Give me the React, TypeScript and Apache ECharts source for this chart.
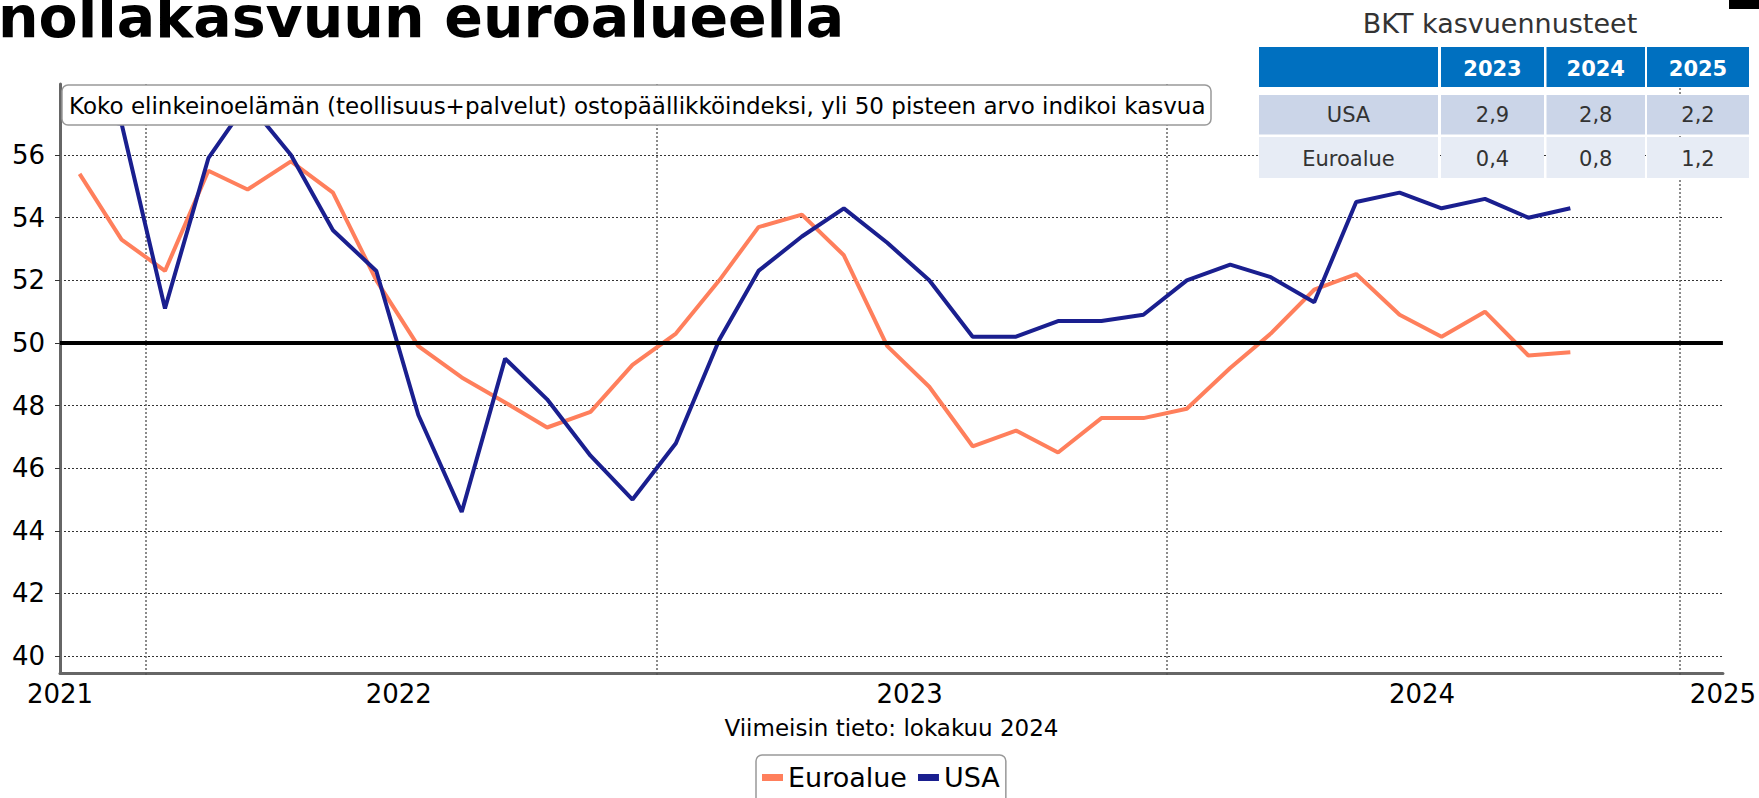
import React, { useEffect, useRef } from 'react';
import * as echarts from 'echarts';

// ---- Data ----
const months = [
  '2021-11-15', '2021-12-15',
  '2022-01-15', '2022-02-15', '2022-03-15', '2022-04-15', '2022-05-15', '2022-06-15',
  '2022-07-15', '2022-08-15', '2022-09-15', '2022-10-15', '2022-11-15', '2022-12-15',
  '2023-01-15', '2023-02-15', '2023-03-15', '2023-04-15', '2023-05-15', '2023-06-15',
  '2023-07-15', '2023-08-15', '2023-09-15', '2023-10-15', '2023-11-15', '2023-12-15',
  '2024-01-15', '2024-02-15', '2024-03-15', '2024-04-15', '2024-05-15', '2024-06-15',
  '2024-07-15', '2024-08-15', '2024-09-15', '2024-10-15',
];
const euroalue = [
  55.4, 53.3,
  52.3, 55.5, 54.9, 55.8, 54.8, 52.0, 49.9, 48.9, 48.1, 47.3, 47.8, 49.3,
  50.3, 52.0, 53.7, 54.1, 52.8, 49.9, 48.6, 46.7, 47.2, 46.5, 47.6, 47.6,
  47.9, 49.2, 50.3, 51.7, 52.2, 50.9, 50.2, 51.0, 49.6, 49.7,
];
const usa = [
  57.2, 57.0,
  51.1, 55.9, 57.7, 56.0, 53.6, 52.3, 47.7, 44.6, 49.5, 48.2, 46.4, 45.0,
  46.8, 50.1, 52.3, 53.4, 54.3, 53.2, 52.0, 50.2, 50.2, 50.7, 50.7, 50.9,
  52.0, 52.5, 52.1, 51.3, 54.5, 54.8, 54.3, 54.6, 54.0, 54.3,
];
const yTicks = [40, 42, 44, 46, 48, 50, 52, 54, 56];
const yearStarts = ['2022-01-01', '2023-01-01', '2024-01-01', '2025-01-01'];
const yearLabelAt = ['2021-11-01', '2022-07-01', '2023-07-01', '2024-07-01', '2025-02-01'];
const axisStart = '2021-11-01';
const axisEnd = '2025-02-01';

const tableTitle = 'BKT kasvuennusteet';
const tableYears = ['2023', '2024', '2025'];
const tableRowNames = ['USA', 'Euroalue'];
const gdpUSA = [2.9, 2.8, 2.2];
const gdpEuro = [0.4, 0.8, 1.2];

const headline = 'nollakasvuun euroalueella';
const note = 'Koko elinkeinoelämän (teollisuus+palvelut) ostopäällikköindeksi, yli 50 pisteen arvo indikoi kasvua';
const source = 'Viimeisin tieto: lokakuu 2024';

const FONT = "'DejaVu Sans', Verdana, sans-serif";

const ts = (s: string) => {
  const [y, m, d] = s.split('-').map(Number);
  return new Date(y, m - 1, d).getTime();
};
const fmt = (v: number) => v.toFixed(1).replace('.', ',');

function buildTable(): any[] {
  const cols = [
    [1259, 1438],
    [1441, 1544],
    [1546.5, 1645],
    [1647, 1749],
  ];
  const rows = [
    { y: 47, h: 40, fill: '#0070C0', ty: 68.5 },
    { y: 95, h: 39.5, fill: '#CBD5E8', ty: 114.5 },
    { y: 137, h: 41, fill: '#E7ECF5', ty: 159 },
  ];
  const els: any[] = [];
  els.push({
    type: 'text', z: 100, x: 1500, y: 23,
    style: { text: tableTitle, fill: '#333', fontSize: 27, fontFamily: FONT, align: 'center', verticalAlign: 'middle' },
  });
  const cellTexts = [
    ['', ...tableYears],
    [tableRowNames[0], ...gdpUSA.map(fmt)],
    [tableRowNames[1], ...gdpEuro.map(fmt)],
  ];
  rows.forEach((r, ri) => {
    cols.forEach((c, ci) => {
      els.push({
        type: 'rect', z: 100,
        shape: { x: c[0], y: r.y, width: c[1] - c[0], height: r.h },
        style: { fill: r.fill },
      });
      const t = cellTexts[ri][ci];
      if (t) {
        els.push({
          type: 'text', z: 101, x: (c[0] + c[1]) / 2, y: r.ty,
          style: {
            text: t,
            fill: ri === 0 ? '#ffffff' : '#333333',
            fontSize: 21,
            fontWeight: ri === 0 ? 'bold' : 'normal',
            fontFamily: FONT,
            align: 'center',
            verticalAlign: 'middle',
          },
        });
      }
    });
  });
  return els;
}

export default function App() {
  const ref = useRef<HTMLDivElement>(null);
  useEffect(() => {
    if (!ref.current) return;
    const chart = echarts.init(ref.current, undefined, { renderer: 'svg' });
    const option: any = {
      animation: false,
      backgroundColor: '#ffffff',
      textStyle: { fontFamily: FONT },
      grid: { left: 60, right: 36, top: 84, bottom: 125, containLabel: false },
      legend: {
        left: 756,
        top: 755,
        orient: 'horizontal',
        icon: 'rect',
        itemWidth: 21,
        itemHeight: 7,
        itemGap: 11,
        padding: [9, 6, 14, 6],
        borderColor: '#999999',
        borderWidth: 1.5,
        borderRadius: 6,
        textStyle: { fontSize: 27, fontFamily: FONT, color: '#000' },
        data: ['Euroalue', 'USA'],
      },
      xAxis: {
        type: 'value',
        min: ts(axisStart),
        max: ts(axisEnd),
        axisLine: { show: true, lineStyle: { color: '#666', width: 3 } },
        axisTick: {
          show: true,
          length: 4,
          customValues: yearStarts.map(ts),
          lineStyle: { color: '#555', width: 1.5, type: [2, 2] },
        },
        axisLabel: {
          customValues: yearLabelAt.map(ts),
          formatter: (v: number) => String(new Date(v).getFullYear()),
          fontSize: 26,
          fontFamily: FONT,
          color: '#000',
          margin: 8,
        },
        splitLine: { show: true, lineStyle: { color: '#666', width: 1.5, type: [2, 2] } },
      },
      yAxis: {
        type: 'value',
        min: 39.46,
        max: 58.27,
        axisLine: { show: true, lineStyle: { color: '#666', width: 3 } },
        axisTick: { show: true, length: 5, customValues: yTicks, lineStyle: { color: '#333', width: 1 } },
        axisLabel: { customValues: yTicks, fontSize: 26, fontFamily: FONT, color: '#000', margin: 15 },
        splitLine: { show: true, lineStyle: { color: '#333', width: 1, type: [2, 2] } },
      },
      series: [
        {
          name: 'Euroalue',
          type: 'line',
          data: months.map((m, i) => [ts(m), euroalue[i]]),
          showSymbol: false,
          symbol: 'none',
          color: '#FF7F5C',
          lineStyle: { width: 4, color: '#FF7F5C' },
          itemStyle: { color: '#FF7F5C' },
          z: 3,
          markLine: {
            silent: true,
            symbol: 'none',
            label: { show: false },
            lineStyle: { color: '#000', width: 4, type: 'solid' },
            data: [{ yAxis: 50 }],
          },
        },
        {
          name: 'USA',
          type: 'line',
          data: months.map((m, i) => [ts(m), usa[i]]),
          showSymbol: false,
          symbol: 'none',
          color: '#1A1F8F',
          lineStyle: { width: 4, color: '#1A1F8F' },
          itemStyle: { color: '#1A1F8F' },
          z: 4,
        },
      ],
      graphic: [
        {
          type: 'text', z: 100, x: -2, y: 17,
          style: { text: headline, fill: '#000', fontSize: 57, fontWeight: 'bold', fontFamily: FONT, align: 'left', verticalAlign: 'middle' },
        },
        {
          type: 'rect', z: 100,
          shape: { x: 1729, y: 0, width: 30, height: 9 },
          style: { fill: '#000' },
        },
        {
          type: 'rect', z: 100,
          shape: { x: 62, y: 85, width: 1149, height: 40, r: 6 },
          style: { fill: '#fff', stroke: '#999', lineWidth: 1.5 },
        },
        {
          type: 'text', z: 101, x: 69, y: 106,
          style: { text: note, fill: '#000', fontSize: 23, fontFamily: FONT, align: 'left', verticalAlign: 'middle' },
        },
        {
          type: 'text', z: 100, x: 891.5, y: 728,
          style: { text: source, fill: '#000', fontSize: 23, fontFamily: FONT, align: 'center', verticalAlign: 'middle' },
        },
        ...buildTable(),
      ],
    };
    chart.setOption(option);
    return () => chart.dispose();
  }, []);
  return (
    <div
      ref={ref}
      style={{ position: 'fixed', left: 0, top: 0, width: 1759, height: 798, background: '#fff' }}
    />
  );
}
